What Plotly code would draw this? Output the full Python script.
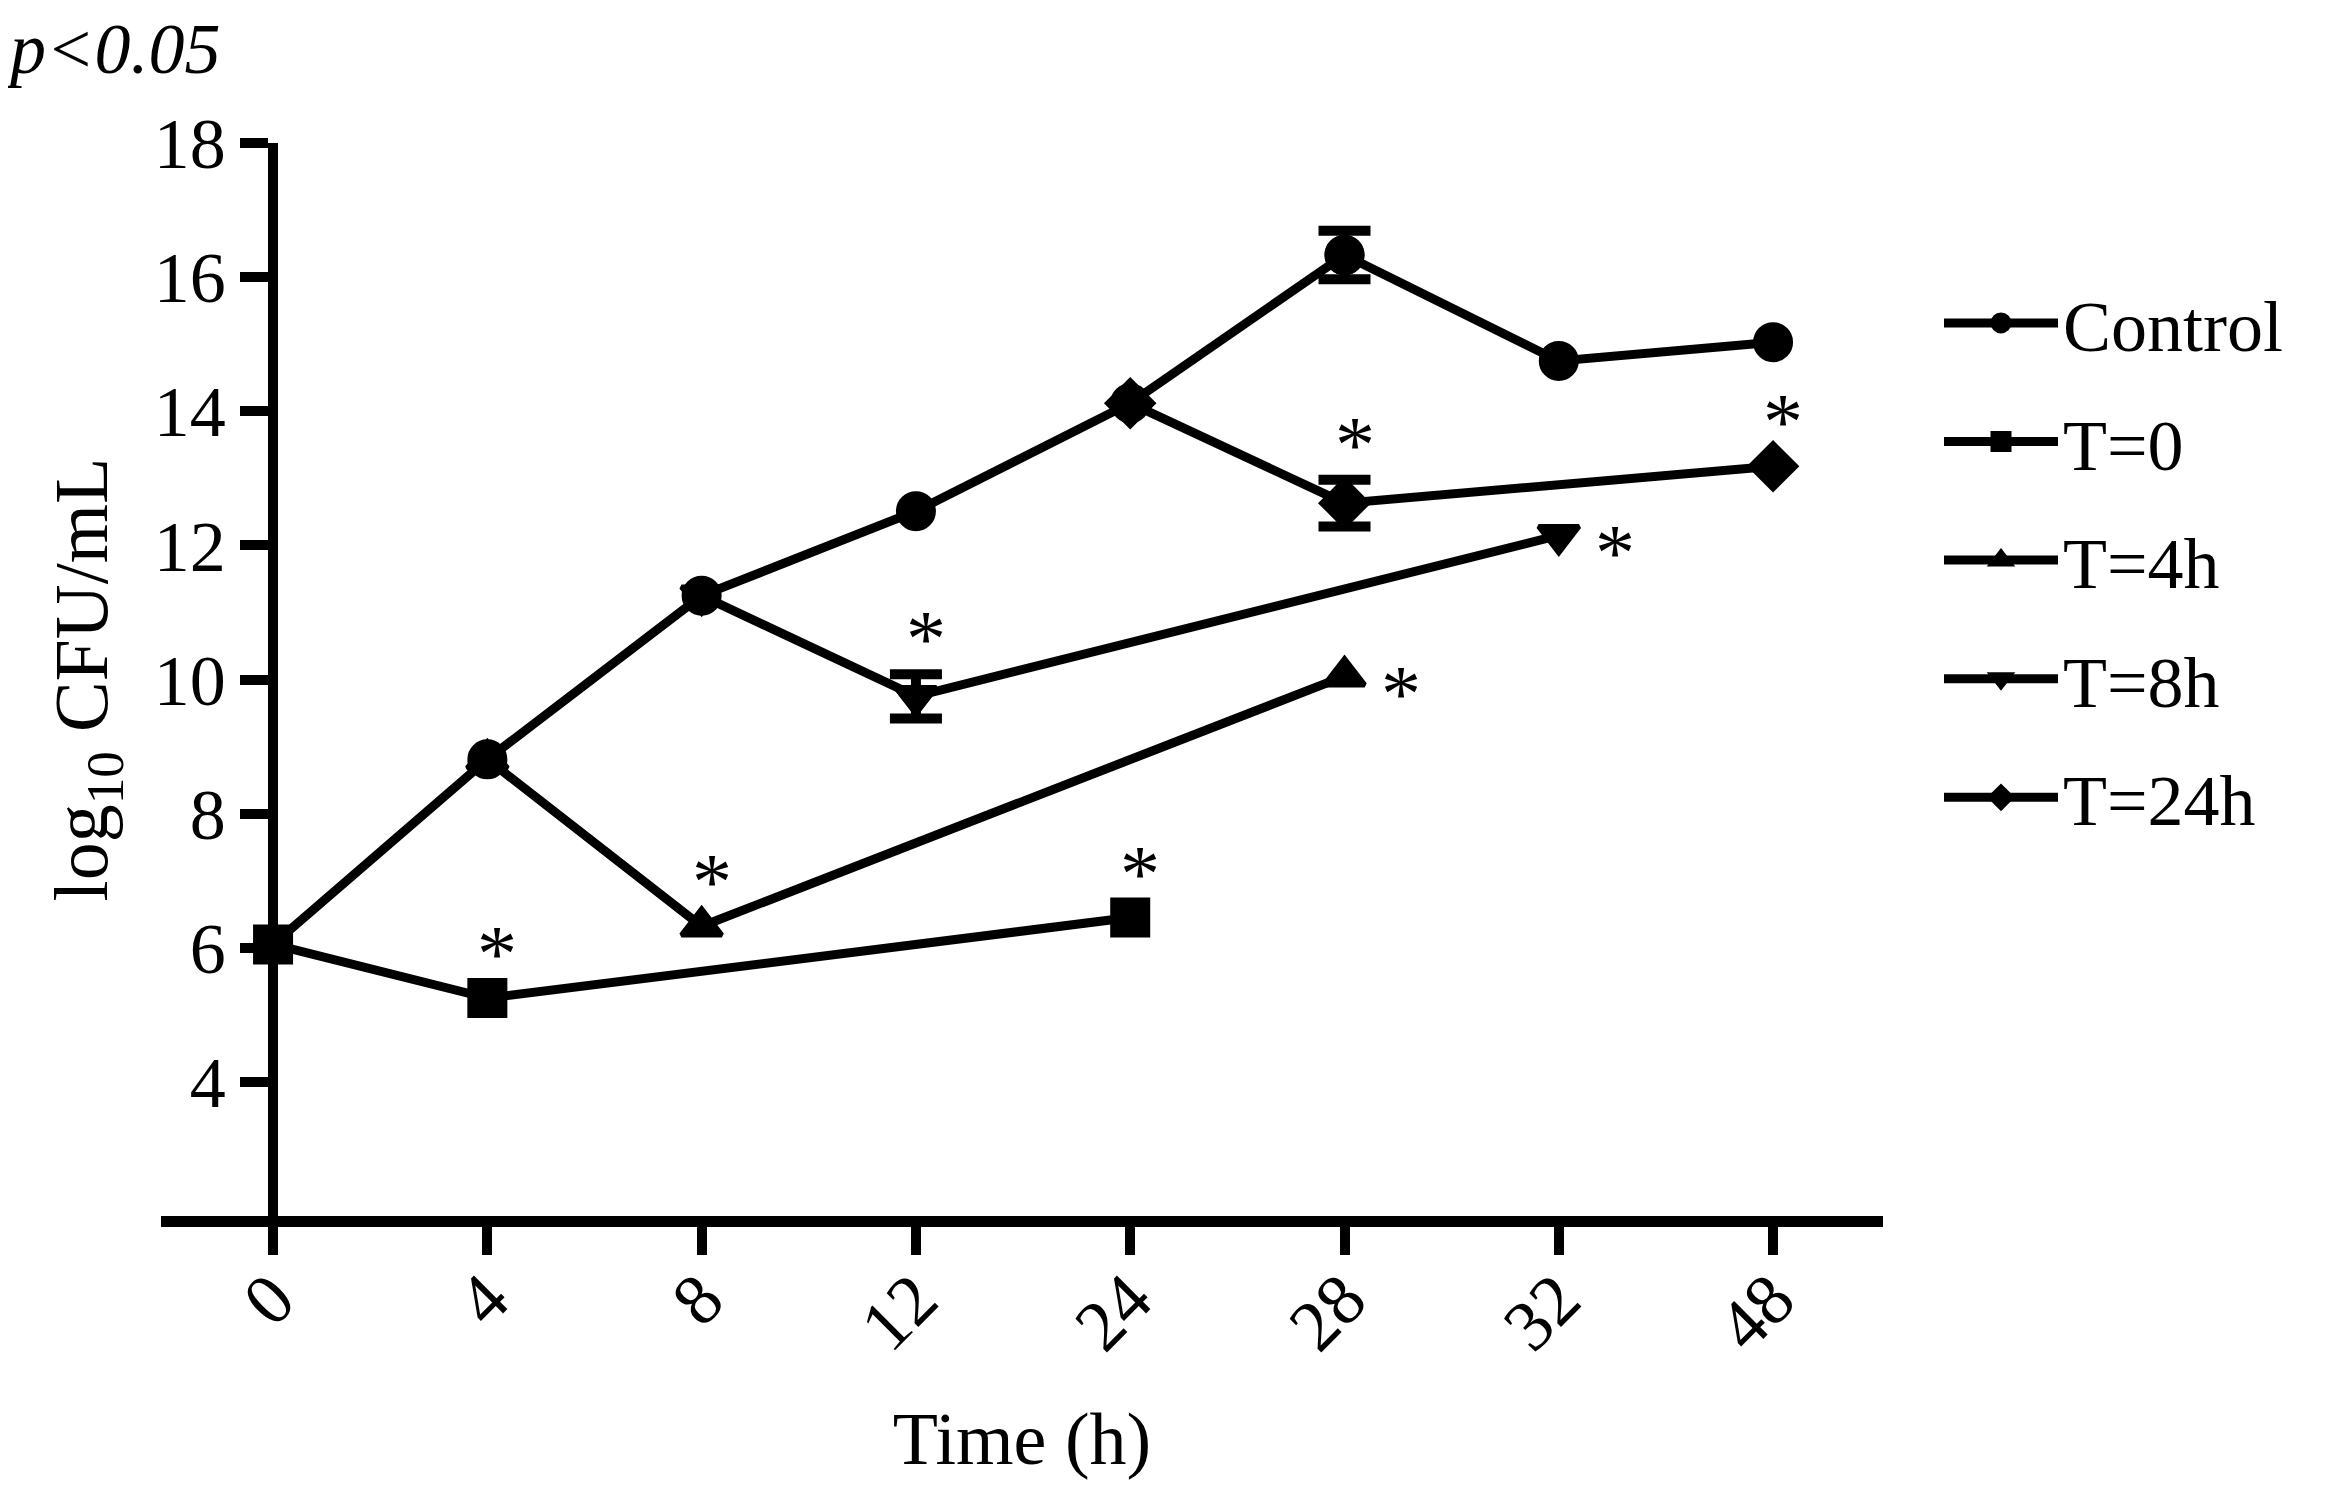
import plotly.graph_objects as go

# time points (categorical axis) and y ticks
time_labels = ["0", "4", "8", "12", "24", "28", "32", "48"]
y_ticks = [4, 6, 8, 10, 12, 14, 16, 18]

# log10 CFU/mL per group
control_x = ["0", "4", "8", "12", "24", "28", "32", "48"]
control_y = [6.05, 8.81, 11.25, 12.51, 14.12, 16.33, 14.75, 15.03]
control_err = [None, None, None, None, None, 0.36, None, None]

t0_x = ["0", "4", "24"]
t0_y = [6.05, 5.25, 6.45]
t0_err = [None, None, None]

t4_x = ["4", "8", "28"]
t4_y = [8.81, 6.32, 10.05]
t4_err = [None, None, None]

t8_x = ["8", "12", "32"]
t8_y = [11.25, 9.75, 12.15]
t8_err = [None, 0.33, None]

t24_x = ["24", "28", "48"]
t24_y = [14.12, 12.63, 13.18]
t24_err = [None, 0.35, None]

series = [
    ("Control", control_x, control_y, control_err, "circle"),
    ("T=0", t0_x, t0_y, t0_err, "square"),
    ("T=4h", t4_x, t4_y, t4_err, "triangle-up"),
    ("T=8h", t8_x, t8_y, t8_err, "triangle-down"),
    ("T=24h", t24_x, t24_y, t24_err, "diamond"),
]

# significance marks: (group, time point, where the star sits)
stars = [
    ("T=0", "4", "above"),
    ("T=4h", "8", "above"),
    ("T=8h", "12", "above"),
    ("T=0", "24", "above"),
    ("T=24h", "28", "above"),
    ("T=4h", "28", "right"),
    ("T=8h", "32", "right"),
    ("T=24h", "48", "above"),
]

FONT = "Liberation Serif"
PAGE_OFF = 8  # browser body margin
W, H = 2340 - PAGE_OFF, 1492 - PAGE_OFF
ML, MR, MT, MB = 161 - PAGE_OFF, 457, 143 - PAGE_OFF, 276
X_RANGE = [-0.523, 7.513]
Y_RANGE = [2, 18]
PLOT_W = W - ML - MR
PX_PER_UNIT = (H - MT - MB) / (Y_RANGE[1] - Y_RANGE[0])

marker_line = dict(color="black", width=5)

fig = go.Figure()
for name, xs, ys, errs, symbol in series:
    fig.add_trace(
        go.Scatter(
            x=xs,
            y=ys,
            name=name,
            legendgroup=name,
            mode="lines+markers",
            line=dict(color="black", width=9),
            marker=dict(symbol=symbol, size=35, color="black", line=marker_line),
            cliponaxis=False,
        )
    )
    # error bars only where the figure shows them
    keep = [i for i, e in enumerate(errs) if e is not None]
    if keep:
        fig.add_trace(
            go.Scatter(
                x=[xs[i] for i in keep],
                y=[ys[i] for i in keep],
                legendgroup=name,
                showlegend=False,
                mode="markers",
                marker=dict(symbol=symbol, size=35, color="black", line=marker_line),
                error_y=dict(type="data", array=[errs[i] for i in keep], visible=True,
                             color="black", thickness=10, width=26),
                cliponaxis=False,
                hoverinfo="skip",
            )
        )

points = {name: dict(zip(xs, zip(ys, errs))) for name, xs, ys, errs, _ in series}
offsets = {"above": (10, 44), "right": (56, -18)}
for name, t, side in stars:
    y, err = points[name][t]
    dx, dy = offsets[side]
    if side == "above" and err:
        dy += 0.6 * err * PX_PER_UNIT
    fig.add_annotation(
        x=time_labels.index(t), y=y, text="*", showarrow=False,
        xshift=dx, yshift=dy, font=dict(family=FONT, size=80, color="black"),
    )

y_axis_pos = (0 - X_RANGE[0]) / (X_RANGE[1] - X_RANGE[0])

fig.update_layout(
    width=W,
    height=H,
    margin=dict(l=ML, r=MR, t=MT, b=MB),
    paper_bgcolor="white",
    plot_bgcolor="white",
    font=dict(family=FONT, size=72, color="black"),
    title=dict(
        text="<i>p&lt;0.05</i>",
        font=dict(family=FONT, size=72, color="black"),
        xref="container", x=2 / W, xanchor="left",
        yref="container", y=1 - 40 / H, yanchor="middle",
    ),
    showlegend=True,
    legend=dict(
        x=(1939 - PAGE_OFF - ML) / PLOT_W,
        xanchor="left",
        y=0.882,
        yanchor="top",
        font=dict(family=FONT, size=72, color="black"),
        itemwidth=114,
        tracegroupgap=22,
        bgcolor="rgba(0,0,0,0)",
    ),
    xaxis=dict(
        type="category",
        categoryarray=time_labels,
        categoryorder="array",
        range=X_RANGE,
        showline=True,
        linecolor="black",
        linewidth=11,
        ticks="outside",
        ticklen=28,
        tickwidth=10,
        tickcolor="black",
        tickangle=-45,
        ticklabelstandoff=-27,
        showgrid=False,
        zeroline=False,
        title=dict(text="Time (h)", font=dict(family=FONT, size=74), standoff=52),
    ),
    yaxis=dict(
        range=Y_RANGE,
        tickvals=y_ticks,
        ticktext=[str(v) for v in y_ticks],
        anchor="free",
        position=y_axis_pos,
        showline=True,
        linecolor="black",
        linewidth=10,
        ticks="outside",
        ticklen=28,
        tickwidth=10,
        tickcolor="black",
        showgrid=False,
        zeroline=False,
        title=dict(text="log<sub>10</sub> CFU/mL", font=dict(family=FONT, size=76),
                   standoff=20),
    ),
)

fig.write_html("out.html")
